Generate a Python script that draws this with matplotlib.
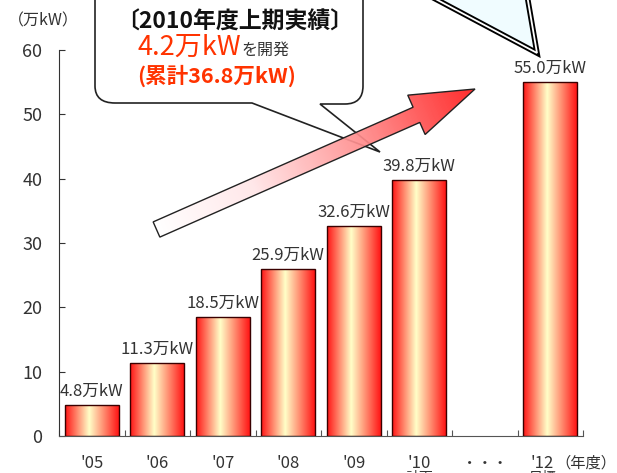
import numpy as np
import matplotlib
matplotlib.use("Agg")
import matplotlib.pyplot as plt
from matplotlib.colors import LinearSegmentedColormap
from matplotlib.patches import Polygon, PathPatch
from matplotlib.path import Path

plt.rcParams['font.family'] = ['Noto Sans CJK JP', 'DejaVu Sans']

# 開発量（万kW）
years = ["'05", "'06", "'07", "'08", "'09", "'10", "'12"]
slots = [0, 1, 2, 3, 4, 5, 7]
values = [4.8, 11.3, 18.5, 25.9, 32.6, 39.8, 55.0]
value_labels = ["4.8万kW", "11.3万kW", "18.5万kW", "25.9万kW",
                "32.6万kW", "39.8万kW", "55.0万kW"]
sub_labels = {5: "計画", 7: "目標"}

txt = '#333333'
red_txt = '#ff3300'

fig = plt.figure(figsize=(6.17, 4.73), dpi=100)
ax = fig.add_axes([59 / 617, 37 / 473, 524 / 617, 386 / 473])

bar_cmap = LinearSegmentedColormap.from_list(
    'bar', [(0.0, '#ff1414'), (0.45, '#ffffc8'), (1.0, '#ff1414')])

centers = [s + 0.5 for s in slots]
bars = ax.bar(centers, values, width=0.82, facecolor='none',
              edgecolor='#3a0000', linewidth=1.0, zorder=3)
grad = np.linspace(0, 1, 256).reshape(1, -1)
for b in bars:
    x0, w, h = b.get_x(), b.get_width(), b.get_height()
    im = ax.imshow(grad, cmap=bar_cmap, aspect='auto',
                   extent=(x0, x0 + w, 0, h), zorder=2)
    im.set_clip_path(b)

for c, v, lab in zip(centers, values, value_labels):
    ax.text(c, v + 0.8, lab, ha='center', va='bottom', fontsize=12,
            color=txt, zorder=4)

ax.set_xlim(0, 8)
ax.set_ylim(0, 60)
ax.set_yticks(range(0, 61, 10))
ax.tick_params(axis='y', direction='in', length=4, pad=12,
               labelsize=13, labelcolor=txt, color=txt)
ax.set_xticks(range(0, 9))
ax.set_xticklabels([])
ax.tick_params(axis='x', direction='in', length=4, color='#555555')
for side in ['top', 'right']:
    ax.spines[side].set_visible(False)
ax.spines['left'].set_color(txt)
ax.spines['bottom'].set_color('#555555')

# 年度ラベル
for c, s, yr in zip(centers, slots, years):
    dx = -0.12 if yr == "'12" else 0
    ax.text(c + dx, -2.9, yr, ha='center', va='top', fontsize=12,
            color=txt, clip_on=False)
    if s in sub_labels:
        ax.text(c + dx, -5.5, sub_labels[s], ha='center', va='top',
                fontsize=10, color=txt, clip_on=False)
ax.text(6.5, -2.9, '・・・', ha='center', va='top', fontsize=11,
        color=txt, clip_on=False)
ax.text(7.58, -2.9, '（年度）', ha='left', va='top', fontsize=11,
        color=txt, clip_on=False)

# 吹き出しと矢印（ピクセル座標）
ov = fig.add_axes([0, 0, 1, 1], zorder=5)
ov.set_xlim(0, 617)
ov.set_ylim(473, 0)
ov.axis('off')

ov.text(8, 21, '（万kW）', ha='left', va='center', fontsize=11.5, color=txt)

verts = [(95, -20), (95, 86), (95, 103), (115, 103), (252, 103),
         (380, 152), (320, 104), (345, 104), (363, 104), (363, 86),
         (363, -20)]
codes = [Path.MOVETO, Path.LINETO, Path.CURVE3, Path.CURVE3, Path.LINETO,
         Path.LINETO, Path.LINETO, Path.LINETO, Path.CURVE3, Path.CURVE3,
         Path.LINETO]
bubble = PathPatch(Path(verts, codes), facecolor='white',
                   edgecolor='#222222', linewidth=1.2, zorder=1)
ov.add_patch(bubble)

ov.text(235, 22, '〔2010年度上期実績〕', ha='center', va='center',
        fontsize=16.5, fontweight='bold', color='#111111', zorder=4)
ov.text(138, 47, '4.2万kW', ha='left', va='center', fontsize=19.5,
        color=red_txt, zorder=4)
ov.text(241, 50, 'を開発', ha='left', va='center', fontsize=11.5,
        color=txt, zorder=4)
ov.text(137, 76, '(累計36.8万kW)', ha='left', va='center', fontsize=15.5,
        fontweight='bold', color=red_txt, zorder=4)

# 右上の吹き出し
tri = [(428, -5), (537, 53), (527, -5)]
ov.add_patch(Polygon(tri, closed=True, facecolor='#f0fcff',
                     edgecolor='black', linewidth=4, joinstyle='miter',
                     zorder=1))
ov.add_patch(Polygon(tri, closed=True, facecolor='none',
                     edgecolor='white', linewidth=1.3, joinstyle='miter',
                     zorder=1))

# 右肩上がりの矢印
tail = np.array([156.5, 229.5])
tip = np.array([475.0, 89.0])
u = (tip - tail) / np.linalg.norm(tip - tail)
n = np.array([u[1], -u[0]])
hw, bw, hl = 8.3, 21.5, 64.0
base = tip - u * hl
arrow_pts = [tail + n * hw, base + n * hw, base + n * bw, tip,
             base - n * bw, base - n * hw, tail - n * hw]
arrow = Polygon(arrow_pts, closed=True, facecolor='none',
                edgecolor='#222222', linewidth=1.0, zorder=3)
ov.add_patch(arrow)

arr_cmap = LinearSegmentedColormap.from_list(
    'arr', [(0.0, '#ffffff'), (0.3, '#ffe6e8'), (0.65, '#ff8a8a'),
            (1.0, '#ff1a1a')])
xs = np.arange(140, 490)
ys = np.arange(75, 250)
gx, gy = np.meshgrid(xs, ys)
proj = ((gx - tail[0]) * u[0] + (gy - tail[1]) * u[1]) / np.linalg.norm(tip - tail)
im = ov.imshow(np.clip(proj, 0, 1), cmap=arr_cmap, aspect='auto',
               extent=(xs[0], xs[-1], ys[-1], ys[0]), alpha=0.92, zorder=2)
im.set_clip_path(arrow)

ov.set_xlim(0, 617)
ov.set_ylim(473, 0)

fig.savefig('out.png', dpi=100)
